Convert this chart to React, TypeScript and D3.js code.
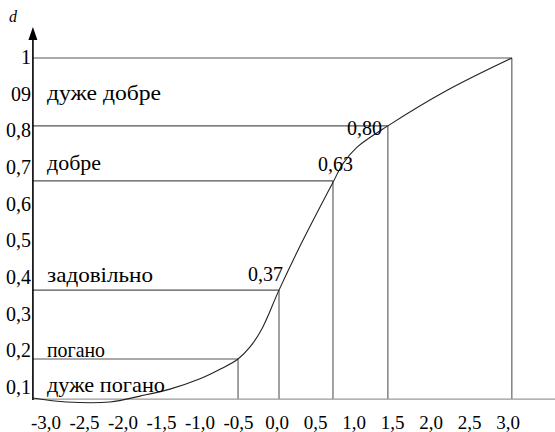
import React from "react";
import * as d3 from "d3";

const xTickValues = [-3, -2.5, -2, -1.5, -1, -0.5, 0, 0.5, 1, 1.5, 2, 2.5, 3];
const xTickLabels = ["-3,0", "-2,5", "-2,0", "-1,5", "-1,0", "-0,5", "0,0", "0,5", "1,0", "1,5", "2,0", "2,5", "3,0"];
const yTickValues = [0.1, 0.2, 0.3, 0.4, 0.5, 0.6, 0.7, 0.8, 0.9, 1.0];
const yTickLabels = ["0,1", "0,2", "0,3", "0,4", "0,5", "0,6", "0,7", "0,8", "09", "1"];

// curve d(x)
const curveX = [-3.17, -2.73, -2.17, -1.78, -1.39, -1.0, -0.74, -0.506, -0.35, -0.19, 0.026, 0.325, 0.727, 0.857, 1.04, 1.44, 2.21, 3.05];
const curveY = [0.073, 0.062, 0.062, 0.078, 0.097, 0.125, 0.151, 0.179, 0.212, 0.264, 0.367, 0.498, 0.661, 0.712, 0.757, 0.815, 0.912, 1.0];

// threshold points
const pointX = [-0.506, 0.026, 0.727, 1.44, 3.05];
const pointY = [0.179, 0.367, 0.665, 0.815, 1.0];
const pointLabels = ["", "0,37", "0,63", "0,80", ""];

// category labels
const categories = ["дуже погано", "погано", "задовільно", "добре", "дуже добре"];
const categoryY = [0.089, 0.184, 0.39, 0.694, 0.885];

const xMin = -3.17;
const yBase = 0.07;

const FONT = "Liberation Serif";

export default function App() {
  const x = d3.scaleLinear().domain([-3, 3]).range([46, 508]);
  const y = d3.scaleLinear().domain([0, 1]).range([424.7, 58]);
  const x0 = x(xMin);
  const yb = y(yBase);

  const pts: [number, number][] = curveX.map((v, i) => [v, curveY[i]]);
  const line = d3
    .line<[number, number]>()
    .x((d) => x(d[0]))
    .y((d) => y(d[1]))
    .curve(d3.curveCatmullRom.alpha(0.5));

  const labelDx = [0, 4, 20, -6, 0];
  const labelDy = [0, -9, -10, 9, 0];
  const catWidth = [118, 58, 106, 54, 114];
  const txt = { fontFamily: FONT };

  return (
    <svg width={555} height={432} style={{ position: "absolute", left: 0, top: 0 }}>
      {pointX.map((px, i) => (
        <g key={"p" + i} stroke="#555" strokeWidth={1.1} fill="none">
          <line x1={x0} x2={x(px)} y1={y(pointY[i])} y2={y(pointY[i])} />
          <line x1={x(px)} x2={x(px)} y1={y(pointY[i])} y2={yb} />
        </g>
      ))}
      <line x1={x0} x2={555} y1={yb} y2={yb} stroke="#999" strokeWidth={1.2} />
      <line x1={x0} x2={x0} y1={yb + 1} y2={34} stroke="#000" strokeWidth={1.6} />
      <path d={`M${x0},27 L${x0 - 4.5},40 L${x0 + 4.5},40 Z`} fill="#000" />
      <text x={9} y={22} fontSize={16} style={{ ...txt, fontStyle: "italic" }}>d</text>

      <path d={line(pts) || ""} fill="none" stroke="#222" strokeWidth={1.1} />

      {yTickValues.map((v, i) => (
        <text key={"yt" + i} x={31} y={y(v) + 6} fontSize={20} textAnchor="end" style={txt}>
          {yTickLabels[i]}
        </text>
      ))}
      {xTickValues.map((v, i) => (
        <text key={"xt" + i} x={x(v)} y={429} fontSize={19} textAnchor="middle" style={txt}>
          {xTickLabels[i]}
        </text>
      ))}
      {categories.map((c, i) => (
        <text
          key={"c" + i}
          x={47}
          y={y(categoryY[i])}
          fontSize={21}
          textLength={catWidth[i]}
          lengthAdjust="spacingAndGlyphs"
          style={txt}
        >
          {c}
        </text>
      ))}
      {pointLabels.map((l, i) =>
        l ? (
          <text
            key={"pl" + i}
            x={x(pointX[i]) + labelDx[i]}
            y={y(pointY[i]) + labelDy[i]}
            fontSize={20}
            textAnchor="end"
            style={txt}
          >
            {l}
          </text>
        ) : null
      )}
    </svg>
  );
}
